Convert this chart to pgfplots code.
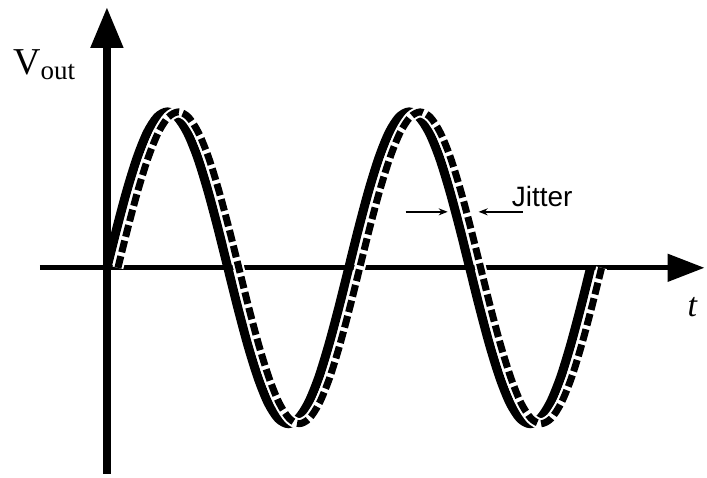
\documentclass[border=0pt]{standalone}
\usepackage{pgfplots}
\usepackage{pgfplotstable}
\pgfplotsset{compat=1.18}
\usetikzlibrary{arrows.meta}
\usepackage{fontspec}
\setmainfont{Liberation Serif}
\newfontfamily\arialfont{Liberation Sans}

\pgfplotstableread{
x y
0 0
10.1 40.4
20.2 78
30.3 110.3
40.3 135.1
50.4 150.7
60.5 156
70.6 150.7
80.7 135.1
90.8 110.3
100.8 78
110.9 40.4
121 0
131.1 -40.4
141.2 -78
151.3 -110.3
161.3 -135.1
171.4 -150.7
181.5 -156
191.6 -150.7
201.7 -135.1
211.8 -110.3
221.8 -78
231.9 -40.4
242 0
252.1 40.4
262.2 78
272.3 110.3
282.3 135.1
292.4 150.7
302.5 156
312.6 150.7
322.7 135.1
332.8 110.3
342.8 78
352.9 40.4
363 0
373.1 -40.4
383.2 -78
393.3 -110.3
403.3 -135.1
413.4 -150.7
423.5 -156
433.6 -150.7
443.7 -135.1
453.8 -110.3
463.8 -78
473.9 -40.4
484 0
}\solid

\pgfplotstableread{
x y
11 0
21.1 40.4
31.2 78
41.3 110.3
51.3 135.1
61.4 150.7
71.5 156
81.6 150.7
91.7 135.1
101.8 110.3
111.8 78
121.9 40.4
132 0
142.1 -40.4
152.2 -78
162.3 -110.3
172.3 -135.1
182.4 -150.7
192.5 -156
202.6 -150.7
212.7 -135.1
222.8 -110.3
232.8 -78
242.9 -40.4
253 0
263.1 40.4
273.2 78
283.3 110.3
293.3 135.1
303.4 150.7
313.5 156
323.6 150.7
333.7 135.1
343.8 110.3
353.8 78
363.9 40.4
374 0
384.1 -40.4
394.2 -78
404.3 -110.3
414.3 -135.1
424.4 -150.7
434.5 -156
444.6 -150.7
454.7 -135.1
464.8 -110.3
474.8 -78
484.9 -40.4
495 0
}\dashedwave

\begin{document}
\begin{tikzpicture}
\begin{axis}[
  scale only axis,
  width=707pt, height=474pt,
  xmin=-107, xmax=600,
  ymin=-206, ymax=268,
  hide axis,
  clip=false,
]
\path (rel axis cs:0,0) rectangle (rel axis cs:1,1);
% axes
\draw[line width=5pt, -{Triangle[length=37pt,width=27pt]}] (axis cs:-67,0) -- (axis cs:598,0);
\draw[line width=8pt, -{Triangle[length=41pt,width=31pt]}] (axis cs:0,-206) -- (axis cs:0,261);
% waves
\addplot[black, line width=9pt, smooth] table[x=x,y=y] {\solid};
\addplot[white, line width=11pt, smooth] table[x=x,y=y] {\dashedwave};
\addplot[black, line width=7pt, smooth, dash pattern=on 12pt off 4pt] table[x=x,y=y] {\dashedwave};
% jitter arrows
\draw[line width=1.5pt, -{Stealth[length=9pt,width=7pt]}] (axis cs:299,56) -- (axis cs:341,56);
\draw[line width=1.5pt, -{Stealth[length=9pt,width=7pt]}] (axis cs:416,56) -- (axis cs:372,56);
% labels
\node[anchor=base west, inner sep=0pt] at (axis cs:405,61) {\arialfont\fontsize{28}{32}\selectfont Jitter};
\node[anchor=base west, inner sep=0pt] at (axis cs:-94,193) {\fontsize{38}{44}\selectfont V\raisebox{-5pt}{\fontsize{27}{30}\selectfont out}};
\node[anchor=base west, inner sep=0pt] at (axis cs:581,-49) {\fontsize{34}{40}\selectfont\itshape t};
\end{axis}
\end{tikzpicture}
\end{document}
